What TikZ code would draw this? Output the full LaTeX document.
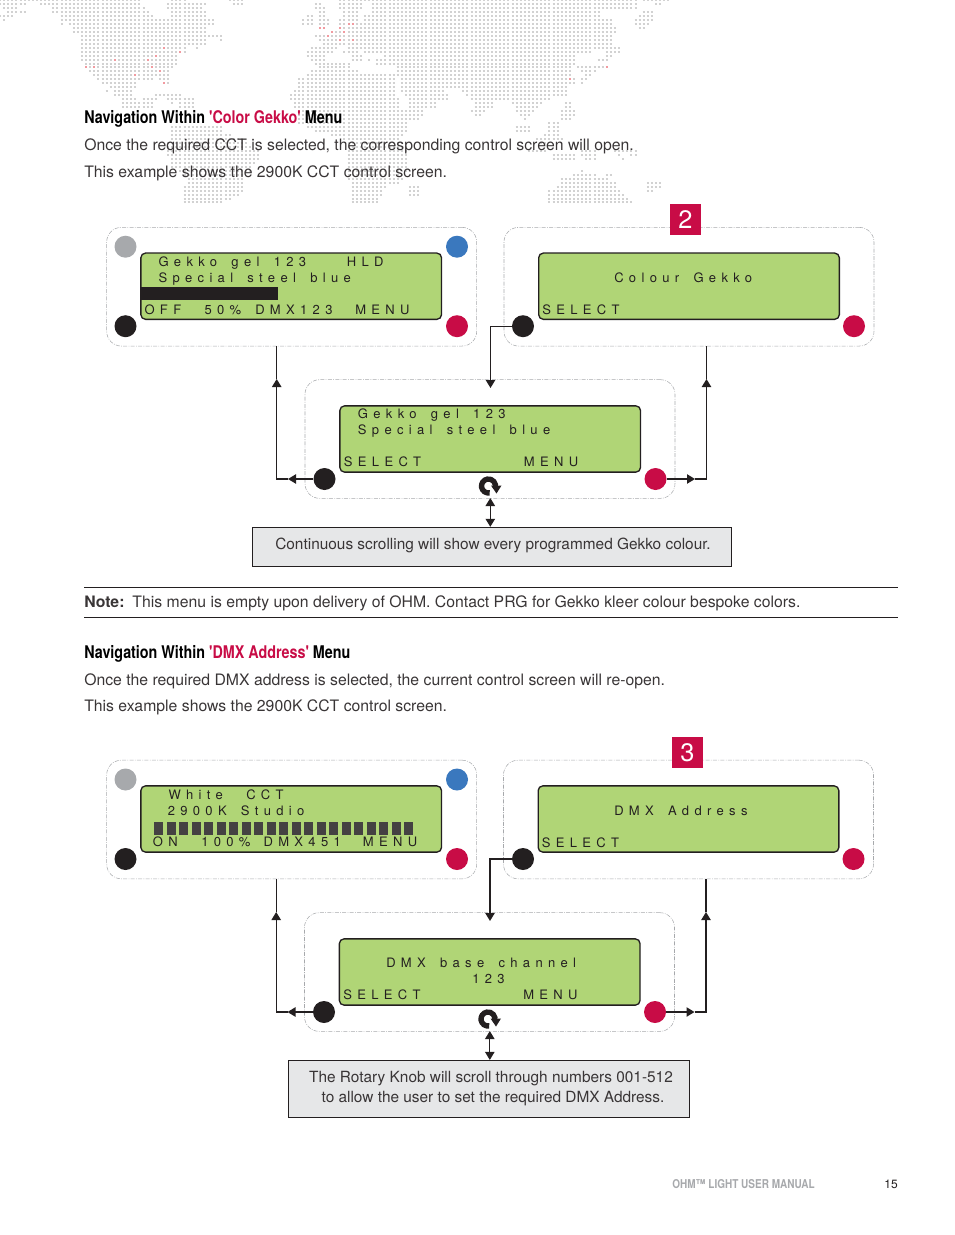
\documentclass[tikz,border=0pt]{standalone}
\usepackage{fontspec}
\setmainfont{TeX Gyre Heros}
\newfontfamily\headfont[FakeStretch=0.82]{TeX Gyre Heros}
\newfontfamily\lcdfont[LetterSpace=41,WordSpace=1.6]{TeX Gyre Heros}
\usetikzlibrary{arrows.meta}
\definecolor{inkblack}{HTML}{231F20}
\definecolor{prgred}{HTML}{C80C46}
\definecolor{lcdgreen}{HTML}{B0D576}
\definecolor{btnblue}{HTML}{3A78BE}
\definecolor{btngray}{HTML}{A7A9AC}
\definecolor{notegray}{HTML}{E6E7E8}
\definecolor{mapgray}{HTML}{D2D2D2}
\definecolor{mapred}{HTML}{F29AA0}
\tikzset{
	panel/.style={draw=btngray,line width=.4pt,dash pattern=on 3pt off 1pt on .6pt off 1pt,rounded corners=11pt,minimum width=277.5pt,minimum height=89pt},
	lcd/.style={draw=inkblack,line width=1pt,fill=lcdgreen,rounded corners=3.5pt,minimum width=225.5pt,minimum height=49.7pt},
	btn/.style={circle,fill=#1,minimum size=16.5pt,inner sep=0pt},
	lcdtxt/.style={anchor=base west,inner sep=0pt,text=inkblack,font=\lcdfont\fontsize{9.75}{11}\selectfont},
	bodytxt/.style={anchor=base west,inner sep=0pt,text=inkblack!90,font=\fontsize{11.83}{14}\selectfont},
	boxtxt/.style={anchor=base,inner sep=0pt,text=inkblack!90,font=\fontsize{11.55}{14}\selectfont},
	headtxt/.style={anchor=base west,inner sep=0pt,text=black,font=\headfont\bfseries\fontsize{13.1}{15}\selectfont},
	notebox/.style={draw=inkblack,line width=.8pt,fill=notegray,inner sep=0pt},
	stepnum/.style={fill=prgred,text=white,minimum size=23.2pt,inner sep=0pt,font=\fontsize{19}{20}\selectfont},
	flowline/.style={draw=inkblack,line width=1pt},
	flowtip/.style={-{Triangle[length=6pt,width=7pt]}},
	flowboth/.style={{Triangle[length=6pt,width=7pt]}-{Triangle[length=6pt,width=7pt]}},
	mapdot/.style={draw=mapgray,line width=1.5pt,dash pattern=on 1.5pt off 1.575pt},
	knobicon/.pic={
		\draw[inkblack,line width=4pt] (80:7) arc (80:375:7);
		\fill[inkblack] (2.5,-.5) -- (13,-.5) -- (8,7.5) -- cycle;
	}
}
\begin{document}
\begin{tikzpicture}[x=.75pt,y=-.75pt]
	\useasboundingbox (0,0) rectangle (954,1235);
	% world map
	\foreach \r/\list in {0/{0/34,42/45,56/59,83/155,157/163},1/{0/6,10/12,13/34,41/50,57/59,77/78,83/88,91/155,160/161},2/{1/4,13/35,41/49,77/79,83/88,91/155},3/{2/6,13/36,42/50,78/79,84/87,91/146,157/159},4/{0/3,15/37,42/50,75/76,78/79,84/87,89/146,156/159},5/{1/1,15/40,41/52,74/76,78/80,83/87,89/149,155/159},6/{15/15,17/40,41/52,74/76,78/80,83/149,155/158},7/{18/50,78/79,83/150,156/157},8/{18/50,81/150},9/{20/50,51/54,77/149},10/{20/50,54/54,78/149},11/{20/50,79/149},12/{20/45,48/48,76/82,85/151},13/{20/45,75/81,84/87,89/144,148/151},14/{20/43,75/79,86/88,94/140,148/149},15/{20/43,76/79,86/88,90/90,92/140,146/148},16/{21/43,77/85,92/140},17/{21/42,78/85,97/139,141/148},18/{22/41,76/85,86/87,97/139,142/145},19/{23/41,75/139,143/144},20/{24/37,39/41,73/96,98/140,142/143},21/{25/33,40/41,73/96,98/140,142/142},22/{27/33,73/96,98/138},23/{26/26,28/32,72/96,98/108,113/138},24/{28/32,38/44,71/96,99/109,114/138},25/{30/33,35/38,41/43,44/47,71/97,100/109,115/134},26/{30/37,42/42,44/47,72/97,100/106,116/120,125/132,138/139},27/{30/37,44/47,72/97,100/106,116/120,126/131,138/139},28/{73/103,115/118,126/130,137/140},29/{73/103,116/117,127/129,137/140},30/{73/102,128/128,137/139},31/{73/99,134/136},32/{42/54,75/99,126/129,134/136},33/{42/54,77/99,126/129,134/136},34/{42/56,81/98,133/136},35/{42/59,84/97,131/137},36/{41/60,85/98,132/133,141/141},37/{41/61,85/99},38/{41/63,85/99,129/133,142/145,150/155},39/{41/63,85/99,135/140,142/145,151/151,154/155},40/{42/63,85/99,135/140,143/145,152/152},41/{42/62,85/99},42/{42/61,85/99},43/{44/61,85/99,142/142},44/{45/59,85/98,140/145,148/149},45/{46/59,85/98,137/148},46/{46/59,86/97,137/150,158/161},47/{45/59,86/94,100/102,136/150,158/161},48/{45/59,86/93,100/102,134/151,158/159},49/{45/58,86/93,100/102,134/152},50/{45/56,86/92,134/153},51/{45/54,86/92,134/154}}
		\foreach \a/\b in \list
			\draw[mapdot] (\a*4.1-1,\r*3.97) -- (\b*4.1+1,\r*3.97);
	\foreach \a/\r in {40/12,44/13,28/15,36/15,38/14,21/17,23/17,37/17,39/18,33/19,40/21,85/6,86/6,78/7,79/7,83/7,81/8,84/8,80/9,83/10,86/10,148/17,139/20}
		\fill[mapred] (\a*4.1-1,\r*3.97-1) rectangle (\a*4.1+1,\r*3.97+1);

	% page text
	\node[headtxt] (headA) at (84,123) {Navigation Within \textcolor{prgred}{'Color Gekko'} Menu};
	\node[bodytxt] (bodyAa) at (84,150) {Once the required CCT is selected, the corresponding control screen will open.};
	\node[bodytxt] (bodyAb) at (84,177) {This example shows the 2900K CCT control screen.};
	\node[headtxt] (headB) at (84,658) {Navigation Within \textcolor{prgred}{'DMX Address'} Menu};
	\node[bodytxt] (bodyBa) at (84,685) {Once the required DMX address is selected, the current control screen will re-open.};
	\node[bodytxt] (bodyBb) at (84,711) {This example shows the 2900K CCT control screen.};
	\coordinate (ruleAl) at (84,587.5);
	\coordinate (ruleAr) at (898,587.5);
	\coordinate (ruleBl) at (84,617.5);
	\coordinate (ruleBr) at (898,617.5);
	\draw[inkblack,line width=.6pt] (ruleAl) -- (ruleAr);
	\draw[inkblack,line width=.6pt] (ruleBl) -- (ruleBr);
	\node[bodytxt] (note) at (84,607) {\textbf{Note:}\hspace{6pt}This menu is empty upon delivery of OHM. Contact PRG for Gekko kleer colour bespoke colors.};
	\node[anchor=base west,inner sep=0pt,text=btngray,font=\headfont\bfseries\fontsize{9.15}{11}\selectfont] (footer) at (672,1188) {OHM™ LIGHT USER MANUAL};
	\node[anchor=base east,inner sep=0pt,text=inkblack,font=\fontsize{9}{11}\selectfont] (pageno) at (898,1188) {15};

	% panels
	\foreach \s/\ya/\yb/\dxa/\xn/\yn/\n in {A/286.7/439/0/685.5/219.5/2,B/819.5/972/-.5/687.5/752.5/3} {
		\node[panel] (full\s) at (291.7,\ya) {};
		\node[lcd] (fulllcd\s) at (291.2,\ya-.5) {};
		\node[btn=btngray] (fullmode\s) at (125.5,\ya-40) {};
		\node[btn=btnblue] (fullcct\s) at (457,\ya-40) {};
		\node[btn=inkblack] (fullsel\s) at (125.5,\ya+39.5) {};
		\node[btn=prgred] (fullmenu\s) at (457,\ya+39.5) {};
		\node[panel] (mode\s) at (689+\dxa,\ya) {};
		\node[lcd] (modelcd\s) at (689+\dxa,\ya-.5) {};
		\node[btn=inkblack] (modesel\s) at (523,\ya+39.5) {};
		\node[btn=prgred] (modemenu\s) at (854+\dxa,\ya+39.5) {};
		\node[stepnum] (num\s) at (\xn,\yn) {\n};
		\node[panel] (sub\s) at (490+\dxa,\yb) {};
		\node[lcd] (sublcd\s) at (490.2+\dxa,\yb) {};
		\node[btn=inkblack] (subsel\s) at (324.5+\dxa,\yb+40) {};
		\node[btn=prgred] (submenu\s) at (655.5+\dxa,\yb+40) {};
		\pic at (488.5+\dxa,\yb+47) {knobicon};
		\coordinate (scroll\s) at (490.3+\dxa,\yb+59);
		% connectors
		\coordinate (tipa\s) at (288+\dxa,\yb+40);
		\coordinate (tipb\s) at (276.7+\dxa,\yb-60);
		\coordinate (tipc\s) at (490.5+\dxa,\yb-51);
		\coordinate (tipd\s) at (695+\dxa,\yb+40);
		\coordinate (tipe\s) at (706.5+\dxa,\yb-60);
		\draw[flowline,flowtip] (subsel\s) -- (tipa\s);
		\draw[flowline,flowtip] (tipa\s) -| (tipb\s);
		\draw[flowline] (tipb\s) -- (tipb\s |- full\s.south);
		\draw[flowline,flowtip] (modesel\s) -| (tipc\s);
		\draw[flowline,flowtip] (submenu\s) -- (tipd\s);
		\draw[flowline,flowtip] (tipd\s) -| (tipe\s);
		\draw[flowline] (tipe\s) -- (tipe\s |- mode\s.south);
	}

	% first group display text
	\fill[inkblack] (fulllcdA.west |- 0,287.3) rectangle (277.7,300);
	\node[lcdtxt] (ta) at (158.3,266.7) {Gekko gel 123};
	\node[lcdtxt] (tb) at (346.7,266.7) {HLD};
	\node[lcdtxt] (tc) at (158.3,282.7) {Special steel blue};
	\node[lcdtxt] (td) at (144.3,314.3) {OFF};
	\node[lcdtxt] (te) at (204.3,314.3) {50\%};
	\node[lcdtxt] (tf) at (255,314.3) {DMX123};
	\node[lcdtxt] (tg) at (355,314.3) {MENU};
	\node[lcdtxt] (th) at (614,282) {Colour Gekko};
	\node[lcdtxt] (ti) at (542,314.3) {SELECT};
	\node[lcdtxt] (tj) at (357.7,418.3) {Gekko gel 123};
	\node[lcdtxt] (tk) at (357.7,434.5) {Special steel blue};
	\node[lcdtxt] (tl) at (343.7,466.3) {SELECT};
	\node[lcdtxt] (tm) at (523.7,466.3) {MENU};
	% second group display text
	\foreach \i in {0,...,20}
		\fill[inkblack!85] (154+\i*12.5,821.7) rectangle (163.3+\i*12.5,835);
	\node[lcdtxt] (tn) at (168.3,799) {White};
	\node[lcdtxt] (to) at (246,799) {CCT};
	\node[lcdtxt] (tp) at (167.5,815) {2900K Studio};
	\node[lcdtxt] (tq) at (152.7,846.7) {ON};
	\node[lcdtxt] (tr) at (201,846.7) {100\%};
	\node[lcdtxt] (ts) at (263.3,846.7) {DMX451};
	\node[lcdtxt] (tt) at (362.7,846.7) {MENU};
	\node[lcdtxt] (tu) at (614,815) {DMX Address};
	\node[lcdtxt] (tv) at (541.5,847) {SELECT};
	\node[lcdtxt] (tw) at (386,967) {DMX base channel};
	\node[lcdtxt] (tx) at (472,983) {123};
	\node[lcdtxt] (ty) at (343,999.5) {SELECT};
	\node[lcdtxt] (tz) at (523,999.5) {MENU};

	% note boxes
	\node[notebox,minimum width=359.2pt,minimum height=29pt] (noteA) at (492.1,546.7) {};
	\node[notebox,minimum width=300.4pt,minimum height=42.8pt] (noteB) at (488.8,1089) {};
	\node[boxtxt] (noteAt) at (493,549) {Continuous scrolling will show every programmed Gekko colour.};
	\node[boxtxt] (noteBa) at (491,1082) {The Rotary Knob will scroll through numbers 001-512};
	\node[boxtxt] (noteBb) at (493,1102) {to allow the user to set the required DMX Address.};
	\draw[flowline,flowboth] (scrollA) -- (scrollA |- noteA.north);
	\draw[flowline,flowboth] (scrollB) -- (scrollB |- noteB.north);
\end{tikzpicture}
\end{document}
